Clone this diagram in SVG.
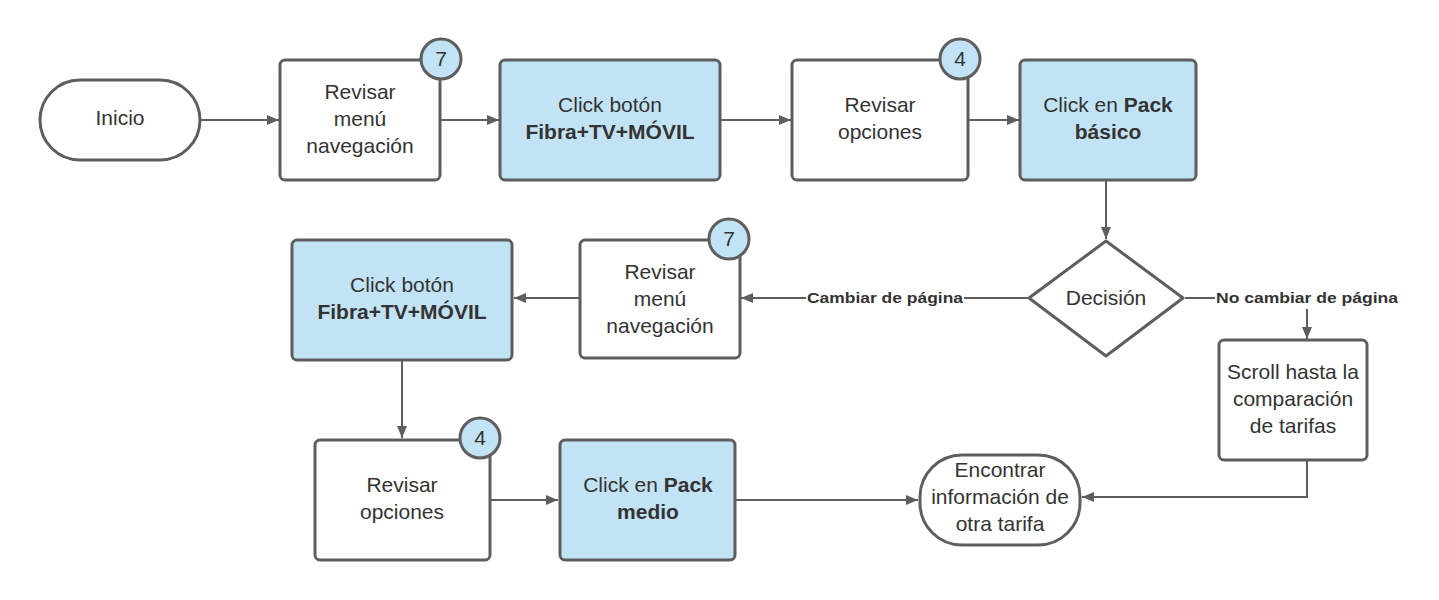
<svg xmlns="http://www.w3.org/2000/svg" width="1439" height="600" viewBox="0 0 1439 600">
<defs>
<marker id="ah" viewBox="0 0 12 12" refX="12" refY="6" markerWidth="12" markerHeight="12" markerUnits="userSpaceOnUse" orient="auto">
<path d="M0,1 L12,6 L0,11 Z" fill="#5e5e5e"/>
</marker>
<style>
.n{fill:#ffffff;stroke:#5e5e5e;stroke-width:3}
.b{fill:#c2e3f5;stroke:#5e5e5e;stroke-width:3}
.t{font-family:"Liberation Sans",Arial,sans-serif;font-size:21px;fill:#333333;text-anchor:middle}
.bd{font-weight:bold}
.c{fill:none;stroke:#5e5e5e;stroke-width:2}
.l{font-family:"Liberation Sans",Arial,sans-serif;font-size:15px;font-weight:bold;fill:#333333}
.bg{fill:#c2e3f5;stroke:#5e5e5e;stroke-width:3}
</style>
</defs>
<rect width="1439" height="600" fill="#ffffff"/>
<g id="connectors">
<line class="c" x1="201" y1="120" x2="279" y2="120" marker-end="url(#ah)"/>
<line class="c" x1="441" y1="120" x2="499" y2="120" marker-end="url(#ah)"/>
<line class="c" x1="721" y1="120" x2="791" y2="120" marker-end="url(#ah)"/>
<line class="c" x1="969" y1="120" x2="1019" y2="120" marker-end="url(#ah)"/>
<line class="c" x1="1106" y1="181" x2="1106" y2="239" marker-end="url(#ah)"/>
<line class="c" x1="1028" y1="298" x2="964" y2="298"/>
<line class="c" x1="806" y1="298" x2="741" y2="298" marker-end="url(#ah)"/>
<text class="l" x="807" y="303" textLength="156" lengthAdjust="spacingAndGlyphs">Cambiar de página</text>
<line class="c" x1="1185" y1="298" x2="1215" y2="298"/>
<text class="l" x="1216" y="303" textLength="182" lengthAdjust="spacingAndGlyphs">No cambiar de página</text>
<line class="c" x1="1307" y1="309" x2="1307" y2="339" marker-end="url(#ah)"/>
<line class="c" x1="579" y1="298" x2="514" y2="298" marker-end="url(#ah)"/>
<line class="c" x1="402" y1="361" x2="402" y2="438" marker-end="url(#ah)"/>
<line class="c" x1="491" y1="500" x2="558" y2="500" marker-end="url(#ah)"/>
<line class="c" x1="736" y1="500" x2="918" y2="500" marker-end="url(#ah)"/>
<polyline class="c" points="1307,461 1307,497 1082,497" marker-end="url(#ah)"/>
</g>
<g id="inicio">
<rect class="n" x="40" y="80" width="160" height="80" rx="40"/>
<text class="t" x="120" y="125">Inicio</text>
</g>
<g id="revisar-menu-1">
<rect class="n" x="280" y="60" width="160" height="120" rx="5"/>
<text class="t" x="360" y="99">Revisar</text>
<text class="t" x="360" y="126">menú</text>
<text class="t" x="360" y="153">navegación</text>
<circle class="bg" cx="441" cy="59" r="20"/>
<text class="t" x="441" y="66">7</text>
</g>
<g id="click-boton-1">
<rect class="b" x="500" y="60" width="220" height="120" rx="5"/>
<text class="t" x="610" y="112">Click botón</text>
<text class="t bd" x="610" y="139">Fibra+TV+MÓVIL</text>
</g>
<g id="revisar-opciones-1">
<rect class="n" x="792" y="60" width="176" height="120" rx="5"/>
<text class="t" x="880" y="112">Revisar</text>
<text class="t" x="880" y="139">opciones</text>
<circle class="bg" cx="960" cy="59" r="20"/>
<text class="t" x="960" y="66">4</text>
</g>
<g id="click-pack-basico">
<rect class="b" x="1020" y="60" width="176" height="120" rx="5"/>
<text class="t" x="1108" y="112">Click en <tspan class="bd">Pack</tspan></text>
<text class="t bd" x="1108" y="139">básico</text>
</g>
<g id="decision">
<path class="n" d="M1106,241 L1183,298 L1106,356 L1029,298 Z" stroke-linejoin="round"/>
<text class="t" x="1106" y="305">Decisión</text>
</g>
<g id="revisar-menu-2">
<rect class="n" x="580" y="240" width="160" height="118" rx="5"/>
<text class="t" x="660" y="279">Revisar</text>
<text class="t" x="660" y="306">menú</text>
<text class="t" x="660" y="333">navegación</text>
<circle class="bg" cx="729" cy="239" r="20"/>
<text class="t" x="729" y="246">7</text>
</g>
<g id="click-boton-2">
<rect class="b" x="292" y="240" width="220" height="120" rx="5"/>
<text class="t" x="402" y="292">Click botón</text>
<text class="t bd" x="402" y="319">Fibra+TV+MÓVIL</text>
</g>
<g id="scroll">
<rect class="n" x="1219" y="340" width="148" height="120" rx="5"/>
<text class="t" x="1293" y="379">Scroll hasta la</text>
<text class="t" x="1293" y="406">comparación</text>
<text class="t" x="1293" y="433">de tarifas</text>
</g>
<g id="revisar-opciones-2">
<rect class="n" x="315" y="440" width="175" height="120" rx="5"/>
<text class="t" x="402" y="492">Revisar</text>
<text class="t" x="402" y="519">opciones</text>
<circle class="bg" cx="480" cy="438" r="20"/>
<text class="t" x="480" y="445">4</text>
</g>
<g id="click-pack-medio">
<rect class="b" x="560" y="440" width="175" height="120" rx="5"/>
<text class="t" x="648" y="492">Click en <tspan class="bd">Pack</tspan></text>
<text class="t bd" x="648" y="519">medio</text>
</g>
<g id="encontrar">
<rect class="n" x="920" y="455" width="160" height="90" rx="42"/>
<text class="t" x="1000" y="477">Encontrar</text>
<text class="t" x="1000" y="504">información de</text>
<text class="t" x="1000" y="531">otra tarifa</text>
</g>
</svg>
